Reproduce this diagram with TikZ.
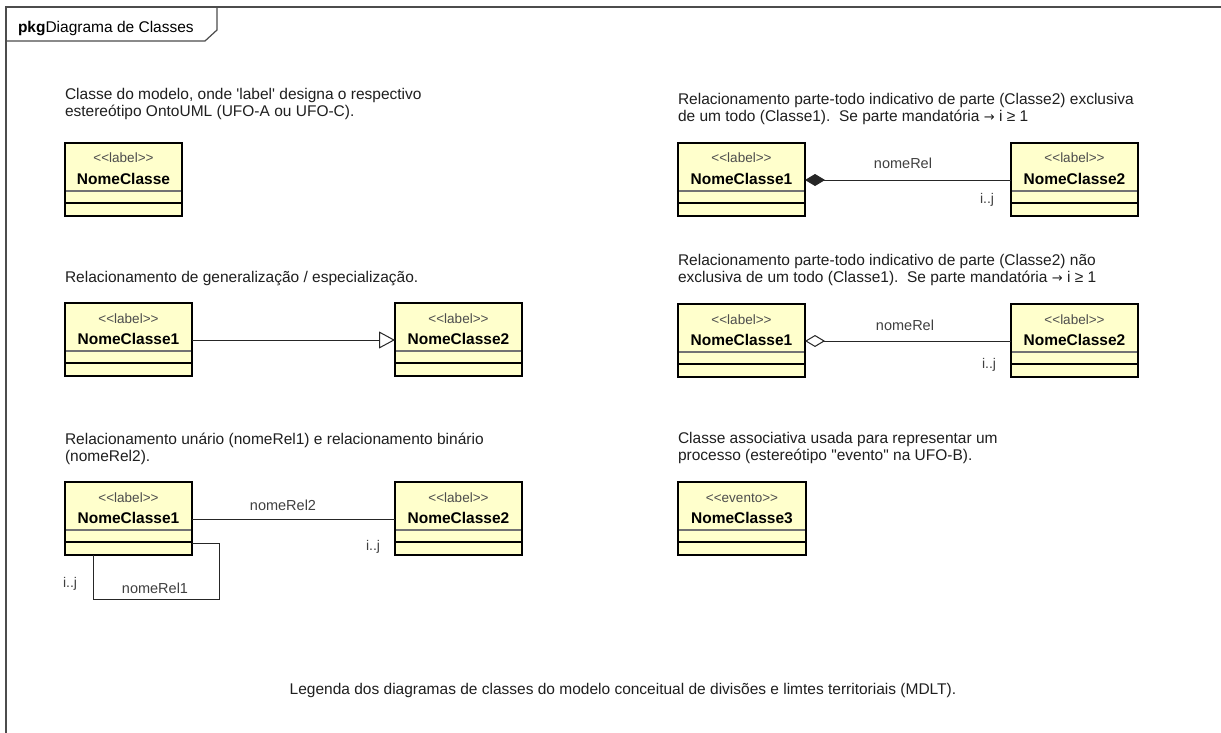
\documentclass[tikz,border=0pt]{standalone}
\usepackage{fontspec}
\setmainfont{Liberation Sans}
\newfontfamily\arrowfont{DejaVu Sans}
\usetikzlibrary{arrows.meta,calc}
\frenchspacing

% guillemet-free stereotype brackets (the kern keeps << and >> apart)
\newcommand\stlt{<\kern0pt<}
\newcommand\stgt{>\kern0pt>}
\newcommand\rarr{{\arrowfont\fontsize{13}{15}\selectfont →}}

% UML class box: name, left x, top y, width, stereotype, class name
\newcommand\umlclass[6]{%
  \node[classbox, minimum width=#4, anchor=north west] (#1) at (#2,-#3) {};
  \draw[sepa] ($(#1.north west)+(1.2,-48)$) -- ($(#1.north east)+(-1.2,-48)$);
  \draw[sepb] ($(#1.north west)+(1.2,-60)$) -- ($(#1.north east)+(-1.2,-60)$);
  \node[stereo, anchor=base] (#1-st) at ($(#1.north)+(0,-20)$) {\stlt#5\stgt};
  \node[cname, anchor=base] (#1-nm) at ($(#1.north)+(0,-41)$) {#6};
}

\begin{document}
\begin{tikzpicture}[x=1pt,y=1pt,
  every node/.style={inner sep=0pt, outer sep=0pt},
  txt/.style={anchor=base west, font=\fontsize{15.5}{17}\selectfont, text=black!88},
  classbox/.style={draw=black, line width=2.4pt, fill=umlyellow, minimum height=73pt},
  sepa/.style={draw=black!55, line width=1.8pt},
  sepb/.style={draw=black, line width=1.1pt},
  stereo/.style={font=\fontsize{13.5}{15}\selectfont, text=black!70},
  cname/.style={font=\fontsize{15.5}{17}\selectfont\bfseries, text=black},
  conn/.style={draw=black!85, line width=1pt},
  rel/.style={font=\fontsize{14.5}{16}\selectfont, text=black!75},
  mult/.style={font=\fontsize{14}{16}\selectfont, text=black!75, anchor=base west},
  frame/.style={draw=black!70, line width=1.2pt},
]
\definecolor{umlyellow}{RGB}{255,255,204}
\useasboundingbox (0,0) rectangle (1221,-733);
\fill[white] (0,0) rectangle (1221,-733);

% package frame and its tab
\draw[frame] (6,-733) -- (6,-7) -- (1221,-7);
\draw[frame] (6,-41) -- (205,-41) -- (217,-30) -- (217,-7);
\node[txt, text=black] (title) at (18,-33) {\textbf{pkg}Diagrama de Classes};

% --- left column ---
\node[txt] (t1a) at (65,-100) {Classe do modelo, onde \textquotesingle label\textquotesingle\ designa o respectivo};
\node[txt] (t1b) at (65,-117) {estereótipo OntoUML (UFO-A ou UFO-C).};
\umlclass{a}{65}{143}{117}{label}{NomeClasse}

\node[txt] (t2) at (65,-282) {Relacionamento de generalização / especialização.};
\umlclass{g1}{65}{303}{127}{label}{NomeClasse1}
\umlclass{g2}{395}{303}{127}{label}{NomeClasse2}
\draw[conn, -{Triangle[open, length=16pt, width=17pt, fill=white]}]
  ($(g1.north east)+(0,-37)$) -- ($(g2.north west)+(0,-37)$);

\node[txt] (t3a) at (65,-444) {Relacionamento unário (nomeRel1) e relacionamento binário};
\node[txt] (t3b) at (65,-461) {(nomeRel2).};
\umlclass{u1}{65}{482}{127}{label}{NomeClasse1}
\umlclass{u2}{395}{482}{127}{label}{NomeClasse2}
\draw[conn] ($(u1.north east)+(0,-37)$) -- ($(u2.north west)+(0,-37)$);
\node[rel, anchor=base] (r2) at (283,-510) {nomeRel2};
\node[mult] (m2) at (366,-550) {i..j};
% self association
\coordinate (loopc) at (219,-599);
\draw[conn] ($(u1.north east)+(0,-61)$) -| (loopc) -| ($(u1.south west)+(28,0)$);
\node[rel, anchor=base] (r1) at (155,-593) {nomeRel1};
\node[mult] (m1) at (63,-587) {i..j};

% --- right column ---
\node[txt] (t4a) at (678,-105) {Relacionamento parte-todo indicativo de parte (Classe2) exclusiva};
\node[txt] (t4b) at (678,-122) {de um todo (Classe1).\ \ Se parte mandatória \rarr\ i ≥ 1};
\umlclass{c1}{678}{143}{127}{label}{NomeClasse1}
\umlclass{c2}{1011}{143}{127}{label}{NomeClasse2}
\draw[conn, {Diamond[length=20pt, width=12pt]}-]
  ($(c1.north east)+(0,-37)$) -- ($(c2.north west)+(0,-37)$);
\node[rel, anchor=base] (r3) at (903,-168) {nomeRel};
\node[mult] (m3) at (980,-204) {i..j};

\node[txt] (t5a) at (678,-265) {Relacionamento parte-todo indicativo de parte (Classe2) não};
\node[txt] (t5b) at (678,-282) {exclusiva de um todo (Classe1).\ \ Se parte mandatória \rarr\ i ≥ 1};
\umlclass{c3}{678}{304}{127}{label}{NomeClasse1}
\umlclass{c4}{1011}{304}{127}{label}{NomeClasse2}
\draw[conn, {Diamond[open, length=20pt, width=12pt, fill=white]}-]
  ($(c3.north east)+(0,-37)$) -- ($(c4.north west)+(0,-37)$);
\node[rel, anchor=base] (r4) at (905,-330) {nomeRel};
\node[mult] (m4) at (982,-368) {i..j};

\node[txt] (t6a) at (678,-443) {Classe associativa usada para representar um};
\node[txt] (t6b) at (678,-460) {processo (estereótipo \textquotedbl evento\textquotedbl\ na UFO-B).};
\umlclass{e}{678}{482}{128}{evento}{NomeClasse3}

% caption
\node[txt, anchor=base] (cap) at (623,-694) {Legenda dos diagramas de classes do modelo conceitual de divisões e limtes territoriais (MDLT).};
\end{tikzpicture}
\end{document}
